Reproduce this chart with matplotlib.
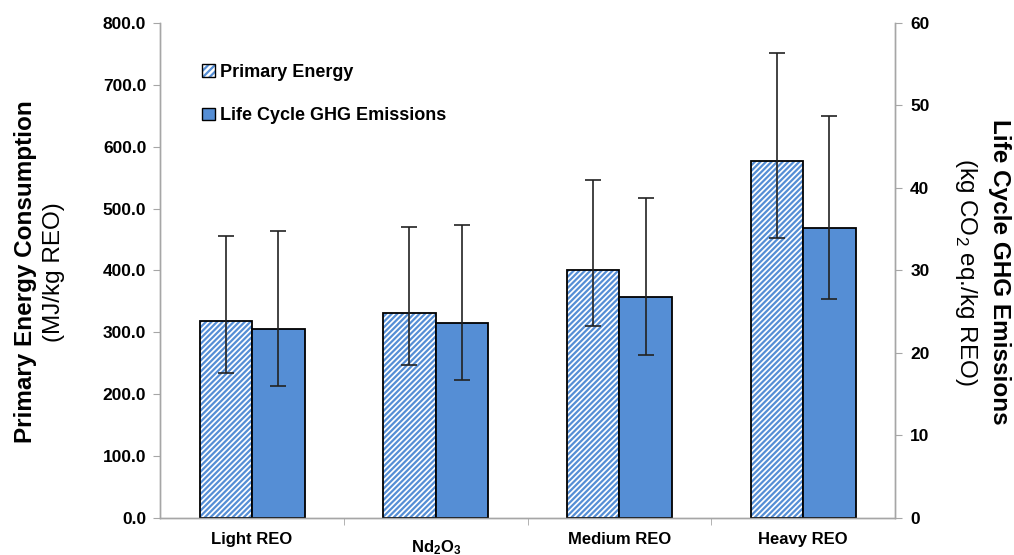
import matplotlib
matplotlib.use("Agg")
import matplotlib.pyplot as plt
import numpy as np
from matplotlib.patches import Patch

categories = ["Light REO", r"$\mathbf{Nd_2O_3}$", "Medium REO", "Heavy REO"]
energy = [318, 332, 400, 577]
energy_hi = [456, 471, 547, 752]
energy_lo = [234, 248, 310, 452]
ghg = [22.9, 23.6, 26.8, 35.1]
ghg_hi = [34.8, 35.5, 38.8, 48.7]
ghg_lo = [16.0, 16.7, 19.7, 26.5]
left_ticks = [0, 100, 200, 300, 400, 500, 600, 700, 800]
right_ticks = [0, 10, 20, 30, 40, 50, 60]

plt.rcParams['font.family'] = ['Liberation Sans', 'DejaVu Sans']
plt.rcParams['mathtext.fontset'] = 'custom'
plt.rcParams['mathtext.bf'] = 'Liberation Sans:bold'
plt.rcParams['mathtext.rm'] = 'Liberation Sans'
plt.rcParams['hatch.linewidth'] = 1.6

BLUE = '#558ED5'
GREY = '#A6A6A6'

fig = plt.figure(figsize=(10.14, 5.55), dpi=100)
ax = fig.add_axes([0.158, 0.0667, 0.7246, 0.8919])
ax2 = ax.twinx()

x = np.arange(len(categories))
w = 0.286

# hatched bars (primary energy)
ax.bar(x - w/2, energy, w, color='white', edgecolor=BLUE, hatch='//////', linewidth=0, zorder=2)
ax.bar(x - w/2, energy, w, fill=False, edgecolor='black', linewidth=1.3, zorder=3)
e = np.array(energy)
ax.errorbar(x - w/2, e, yerr=[e - np.array(energy_lo), np.array(energy_hi) - e],
            fmt='none', ecolor='#222222', elinewidth=1.2, capsize=6, capthick=1.2, zorder=4)

# solid bars (GHG)
g = np.array(ghg)
ax2.bar(x + w/2, ghg, w, color=BLUE, edgecolor='black', linewidth=1.3, zorder=2)
ax2.errorbar(x + w/2, g, yerr=[g - np.array(ghg_lo), np.array(ghg_hi) - g],
             fmt='none', ecolor='#222222', elinewidth=1.2, capsize=6, capthick=1.2, zorder=4)

ax.set_xlim(-0.5, 3.5)
ax.set_ylim(0, 800)
ax2.set_ylim(0, 60)

ax.set_yticks(left_ticks)
ax.set_yticklabels([f"{v:.1f}" for v in left_ticks], fontweight='bold', fontsize=12.5)
ax2.set_yticks(right_ticks)
ax2.set_yticklabels([str(v) for v in right_ticks], fontweight='bold', fontsize=12.5)

ax.set_xticks(x)
ax.set_xticklabels(categories, fontweight='bold', fontsize=12)
ax.tick_params(axis='x', length=0, pad=10)
ax.set_xticks([0.5, 1.5, 2.5], minor=True)
ax.tick_params(axis='x', which='minor', length=5, color=GREY, direction='out')
for lbl in ax.get_xticklabels():
    if 'Nd' in lbl.get_text():
        lbl.set_y(-0.013)

ax.tick_params(axis='y', length=5, color=GREY, direction='out', pad=5)
ax2.tick_params(axis='y', length=5, color=GREY, direction='out', pad=6)

for a in (ax, ax2):
    a.spines['top'].set_visible(False)
    for s in ('left', 'right', 'bottom'):
        a.spines[s].set_color(GREY)
        a.spines[s].set_linewidth(1.0)

# axis titles
fig.text(0.025, 0.51, "Primary Energy Consumption", rotation=90, ha='center', va='center',
         fontsize=17.5, fontweight='bold')
fig.text(0.053, 0.51, "(MJ/kg REO)", rotation=90, ha='center', va='center', fontsize=17.5)
fig.text(0.986, 0.51, "Life Cycle GHG Emissions", rotation=270, ha='center', va='center',
         fontsize=17.5, fontweight='bold')
fig.text(0.953, 0.51, r"(kg CO$_2$ eq./kg REO)", rotation=270, ha='center', va='center',
         fontsize=17.5)

# legend
h1 = (Patch(facecolor='white', edgecolor=BLUE, hatch='/////', linewidth=0),
      Patch(fill=False, edgecolor='black', linewidth=1.0))
h2 = Patch(facecolor=BLUE, edgecolor='black', linewidth=1.0)
leg = ax.legend([h1, h2], ["Primary Energy", "Life Cycle GHG Emissions"],
                loc='upper left', bbox_to_anchor=(0.035, 0.95), frameon=False,
                prop={'weight': 'bold', 'size': 13}, handlelength=0.7, handleheight=0.7,
                handletextpad=0.3, labelspacing=1.45)

fig.savefig("out.png", dpi=100)
